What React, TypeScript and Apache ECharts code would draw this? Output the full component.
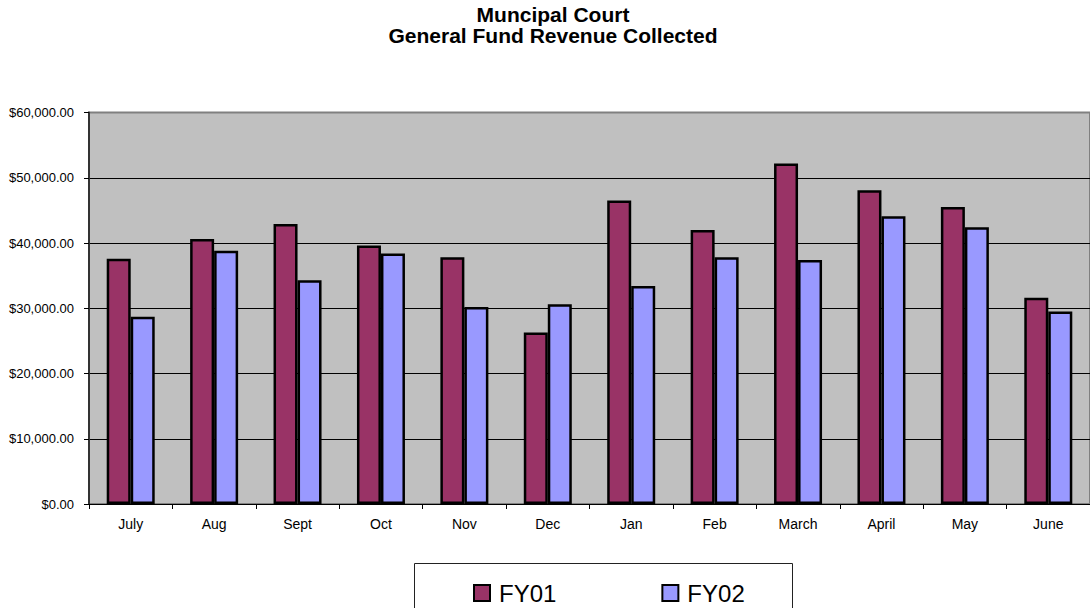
import React, { useEffect, useRef } from "react";
import * as echarts from "echarts";

const months = ["July", "Aug", "Sept", "Oct", "Nov", "Dec", "Jan", "Feb", "March", "April", "May", "June"];
const fy01 = [37600, 40600, 42900, 39600, 37800, 26300, 46500, 42000, 52200, 48100, 45500, 31600];
const fy02 = [28700, 38800, 34300, 38400, 30200, 30600, 33400, 37800, 37400, 44100, 42400, 29500];
const seriesNames = ["FY01", "FY02"];
const titleLines = ["Muncipal Court", "General Fund Revenue Collected"];

const FONT = "Arial, 'Liberation Sans', sans-serif";

export default function App() {
  const ref = useRef<HTMLDivElement>(null);
  useEffect(() => {
    if (!ref.current) return;
    const chart = echarts.init(ref.current, null, { renderer: "svg" });
    const fmt = (v: number) =>
      "$" + v.toLocaleString("en-US", { minimumFractionDigits: 2, maximumFractionDigits: 2 });
    chart.setOption({
      animation: false,
      backgroundColor: "#ffffff",
      graphic: [
        {
          type: "text",
          x: 553,
          y: 4,
          style: {
            text: titleLines.join("\n"),
            font: `bold 21px ${FONT}`,
            textAlign: "center",
            textVerticalAlign: "top",
            lineHeight: 21,
            fill: "#000",
          },
        },
        {
          type: "rect",
          z: 0,
          shape: { x: 414.5, y: 563.5, width: 378, height: 60 },
          style: { fill: "#ffffff", stroke: "#222", lineWidth: 1 },
        },
      ],
      legend: {
        left: 468,
        top: 576,
        z: 5,
        itemWidth: 16,
        itemHeight: 16,
        itemGap: 105,
        icon: "rect",
        itemStyle: { borderColor: "#000", borderWidth: 2 },
        textStyle: { fontSize: 24, fontFamily: FONT, color: "#000", lineHeight: 24, padding: [0, 0, 0, 4] },
        data: seriesNames,
      },
      grid: {
        left: 89,
        top: 112.5,
        width: 1008,
        height: 391.5,
        show: true,
        backgroundColor: "#C0C0C0",
        borderColor: "#808080",
        borderWidth: 2,
        containLabel: false,
      },
      xAxis: {
        type: "category",
        data: months,
        axisLine: { show: true, lineStyle: { color: "#000", width: 1 } },
        axisTick: { show: true, length: 5, lineStyle: { color: "#000" } },
        axisLabel: { fontSize: 14, fontFamily: FONT, color: "#000", margin: 13 },
      },
      yAxis: {
        type: "value",
        min: 0,
        max: 60000,
        interval: 10000,
        axisLine: { show: true, lineStyle: { color: "#333", width: 2 } },
        axisTick: { show: true, length: 5, lineStyle: { color: "#000" } },
        axisLabel: { fontSize: 13, fontFamily: FONT, color: "#000", margin: 15, formatter: fmt },
        splitLine: {
          show: true,
          lineStyle: { color: ["#000", "#000", "#000", "#000", "#000", "#000", "#808080"], width: 1 },
        },
      },
      series: [
        {
          name: seriesNames[0],
          type: "bar",
          data: fy01,
          barWidth: 24,
          barGap: "0%",
          itemStyle: { color: "#993366", borderColor: "#000", borderWidth: 2.5 },
        },
        {
          name: seriesNames[1],
          type: "bar",
          data: fy02,
          barWidth: 24,
          barGap: "0%",
          itemStyle: { color: "#9999FF", borderColor: "#000", borderWidth: 2.5 },
        },
      ],
    });
    return () => chart.dispose();
  }, []);
  return (
    <div
      ref={ref}
      style={{ position: "absolute", left: 0, top: 0, width: 1090, height: 608, overflow: "hidden" }}
    />
  );
}
